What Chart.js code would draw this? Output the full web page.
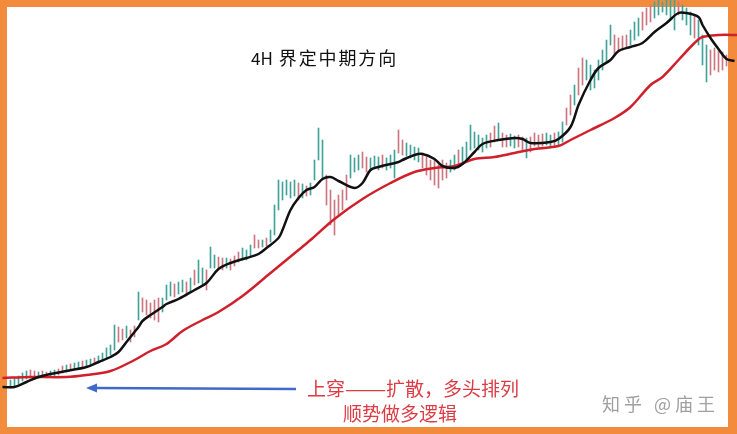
<!DOCTYPE html>
<html>
<head>
<meta charset="utf-8">
<script src="https://cdn.jsdelivr.net/npm/chart.js@4/dist/chart.umd.min.js"></script>
<style>
html,body{margin:0;padding:0;background:#fff;}
#wrap{position:relative;width:737px;height:434px;overflow:hidden;}
canvas{position:absolute;left:0;top:0;}
.t{position:absolute;white-space:nowrap;font-family:"Noto Sans CJK SC","Noto Sans",sans-serif;}
.dash{display:inline-block;width:41px;overflow:visible;}
.dash span{display:inline-block;transform:scaleX(1.3);transform-origin:0 50%;}
</style>
</head>
<body>
<div id="wrap">
<canvas id="c" width="737" height="434"></canvas>
<div class="t" id="title" style="left:251px;top:47px;font-size:18px;line-height:20px;color:#111;"><span style="font-size:17px;">4H</span><span style="letter-spacing:1.9px;"> 界定中期方向</span></div>
<div class="t" id="note1" style="left:307px;top:377px;font-size:19px;line-height:22px;color:#dc3c44;">上穿<span class="dash"><span>——</span></span>扩散，多头排列</div>
<div class="t" id="note2" style="left:343px;top:402px;font-size:19px;line-height:22px;color:#dc3c44;">顺势做多逻辑</div>
<div class="t" id="mark" style="left:602px;top:392px;font-size:18px;line-height:22px;color:#a0a0a0;letter-spacing:4px;">知乎 @庙王</div>
</div>
<script>
// Bar highs and lows (price units), one per bar, bars indexed 0..179
const barHigh = [54,56,58,61,63,64,63,62,63,62,63,64,65,68,69,70,71,72,73,74,75,76,78,81,86,89,109,107,105,108,104,108,142,136,134,131,134,136,136,149,152,150,152,154,152,156,164,174,166,164,187,179,177,176,176,175,178,182,186,184,189,199,194,194,196,204,229,254,252,254,252,254,251,250,248,251,274,306,294,259,244,234,239,244,259,279,276,279,282,277,276,278,277,279,276,279,284,304,294,291,289,287,286,281,277,274,274,269,274,271,274,279,284,287,292,309,302,299,296,299,301,308,311,301,299,300,298,299,297,296,297,301,299,300,301,299,301,302,312,326,339,349,366,376,374,369,364,374,384,394,409,399,396,398,399,404,412,416,422,426,429,432,434,432,434,434,434,432,429,426,422,419,414,399,389,384,386,384,382,379];
const barLow = [46,48,50,53,55,56,55,56,57,56,58,58,59,61,62,64,65,66,67,67,69,70,71,73,76,79,84,92,94,96,92,97,114,122,119,116,114,112,122,134,138,137,140,142,138,142,149,151,149,144,166,166,166,164,166,164,168,172,174,174,178,186,186,187,188,192,199,224,234,239,236,238,234,236,238,239,254,274,256,229,209,199,219,224,234,256,262,264,266,262,264,266,264,266,264,266,256,281,279,278,276,274,272,266,259,254,249,246,254,256,262,264,266,272,274,284,286,284,282,286,287,292,294,287,287,288,286,287,284,276,282,288,287,288,289,287,288,289,292,309,319,329,339,349,354,344,346,354,364,372,389,379,382,384,386,389,394,398,404,409,412,416,419,422,419,414,404,419,414,409,399,396,389,369,352,359,364,362,364,368];
// u = up bar, d = down bar
const barDir = "uuuuuddudduudduduuduuduuuuuddudduddddduuuduududuuduudduddduuudduduuuuuuududuuuudddddduuudduuuduuudduuuuddddddduuduuuuuuuddudduuddudddduuduuddudduuuuuuudddduuuddduuuuuuduuuduuuddddddddudud";
// Moving averages sampled at bar indices
const fastMaX = [-2,1,4,7,10,14,19,22,25,27,29,31,32,33,35,38,39,42,46,49,52,55,59,62,64,67,68,70,72,74,76,78,80,82,86,88,90,92,97,98,101,103,106,108,111,113,116,118,122,126,128,130,135,137,140,142,145,147,150,152,155,158,161,164,167,169,172,173,175,177,179,181];
const fastMaY = [47,47,52,57,60,63,67,72,77,82,92,102,107,113,119,127,130,135,144,151,165,171,176,180,186,196,204,224,236,244,247,255,257,253,246,251,264,267,272,274,279,280,275,268,266,270,282,290,294,296,295,291,292,295,307,329,354,366,374,383,387,391,402,411,421,421,417,409,396,385,375,373];
const slowMaX = [-2,5,14,19,25,31,35,39,43,48,52,58,65,72,75,81,88,95,101,106,111,116,121,126,131,137,140,145,151,155,160,163,167,171,173,177,182];
const slowMaY = [56,57,57,59,63,74,83,90,103,114,122,138,161,184,194,215,235,251,262,266,268,275,277,281,285,288,294,304,316,327,349,357,374,391,397,399,399];

const upColor = 'rgb(66,164,152)';
const downColor = 'rgb(204,118,128)';

const bars = barHigh.map((h, i) => ({x: i, y: [barLow[i], h]}));
const barColors = barHigh.map((h, i) => barDir[i] === 'u' ? upColor : downColor);

const frame = {
  id: 'frame',
  beforeDatasetsDraw(chart) {
    const ctx = chart.ctx;
    ctx.save();
    ctx.fillStyle = '#f28c3c';
    ctx.fillRect(0, 0, 737, 7);
    ctx.fillRect(0, 0, 7, 434);
    ctx.fillRect(728, 0, 9, 434);
    ctx.fillRect(0, 427, 737, 7);
    ctx.restore();
  },
  afterDatasetsDraw(chart) {
    const ctx = chart.ctx;
    ctx.save();
    ctx.strokeStyle = '#4169c8';
    ctx.fillStyle = '#4169c8';
    ctx.lineWidth = 2.5;
    ctx.beginPath();
    ctx.moveTo(296, 389);
    ctx.lineTo(95, 388);
    ctx.stroke();
    ctx.beginPath();
    ctx.moveTo(86, 388);
    ctx.lineTo(97, 383.5);
    ctx.lineTo(97, 392.5);
    ctx.closePath();
    ctx.fill();
    ctx.restore();
  }
};

new Chart(document.getElementById('c'), {
  data: {
    datasets: [
      {type: 'line', data: fastMaX.map((x, i) => ({x, y: fastMaY[i]})), borderColor: '#111', borderWidth: 2.5, pointRadius: 0, tension: 0.35, order: 0},
      {type: 'line', data: slowMaX.map((x, i) => ({x, y: slowMaY[i]})), borderColor: '#d0202c', borderWidth: 2.5, pointRadius: 0, tension: 0.35, order: 0},
      {type: 'bar', data: bars, backgroundColor: barColors, barThickness: 1, borderWidth: 0, order: 1}
    ]
  },
  options: {
    responsive: false,
    animation: false,
    layout: {padding: 0},
    plugins: {legend: {display: false}, tooltip: {enabled: false}},
    scales: {
      x: {type: 'linear', display: false, min: -2.625, max: 181.625, offset: false},
      y: {display: false, min: 0, max: 434}
    }
  },
  plugins: [frame]
});
</script>
</body>
</html>
